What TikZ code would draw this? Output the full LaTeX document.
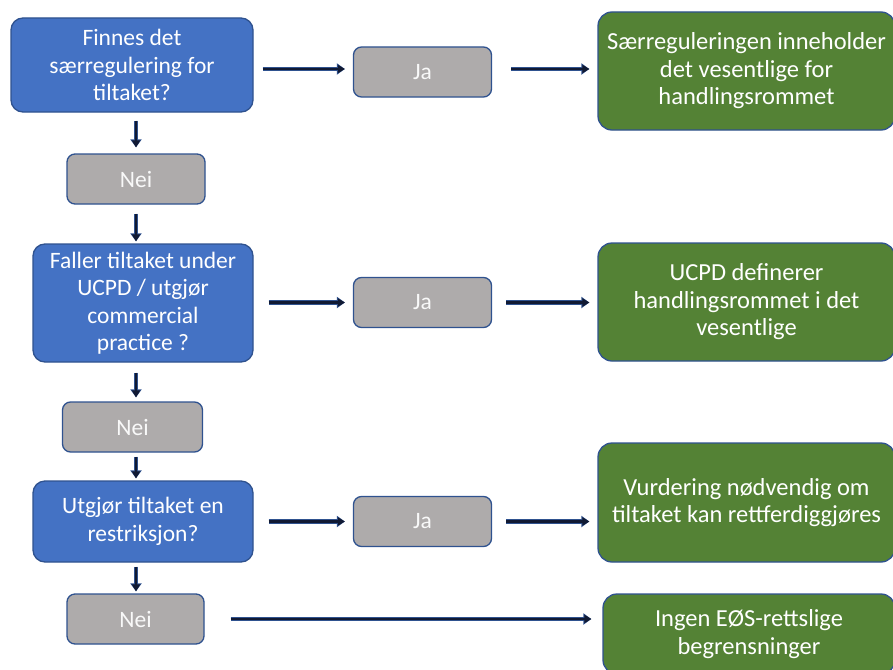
\documentclass[tikz,border=0pt]{standalone}
\usepackage{fontspec}
\setmainfont{Carlito}
\usetikzlibrary{arrows.meta}
\definecolor{qblue}{HTML}{4472C4}
\definecolor{edgeblue}{HTML}{2F528F}
\definecolor{ansgray}{HTML}{AEABAB}
\definecolor{resgreen}{HTML}{548235}
\definecolor{darkline}{HTML}{111A33}
\begin{document}
\begin{tikzpicture}[
    x=1pt, y=-1pt,
    question/.style={rectangle, draw=edgeblue, line width=1.3pt, fill=qblue, rounded corners=12pt, text=white, align=center, font=\fontsize{23.5}{27.5}\selectfont, inner sep=0pt},
    answer/.style={rectangle, draw=edgeblue, line width=1.3pt, fill=ansgray, rounded corners=8pt, text=white!95!gray, align=center, font=\fontsize{23.5}{27.5}\selectfont, minimum width=138pt, minimum height=50pt, inner sep=0pt},
    result/.style={rectangle, draw=edgeblue, line width=1.3pt, fill=resgreen, rounded corners=14pt, text=white, align=center, font=\fontsize{24.5}{27.5}\selectfont, minimum width=297pt, inner sep=0pt},
    arrow/.style={line width=2.5pt, draw=darkline, -{Triangle[length=7pt,width=8pt]},
        preaction={draw=edgeblue, line width=4.2pt, -{Triangle[length=8pt,width=11pt]}}}
]
    \useasboundingbox (0,0) rectangle (893,669);

    % Questions
    \node [question, minimum width=242pt, minimum height=94pt] (q1) at (132,65) {Finnes det\\særregulering for\\tiltaket?};
    \node [question, minimum width=220pt, minimum height=118pt] (q2) at (143,303) {Faller tiltaket under\\UCPD / utgjør\\commercial\\practice ?};
    \node [question, minimum width=220pt, minimum height=81pt] (q3) at (143,521.5) {Utgjør tiltaket en\\restriksjon?};

    % Nei
    \node [answer] (nei1) at (136,179) {Nei};
    \node [answer, minimum width=140pt] (nei2) at (132.5,427) {Nei};
    \node [answer, minimum width=137pt] (nei3) at (135.5,619) {Nei};

    % Ja
    \node [answer] (ja1) at (422.5,72) {Ja};
    \node [answer] (ja2) at (422.5,302.5) {Ja};
    \node [answer] (ja3) at (422.5,521.5) {Ja};

    % Results
    \node [result, minimum height=118pt] (res1) at (746.5,71) {Særreguleringen inneholder\\det vesentlige for\\handlingsrommet};
    \node [result, minimum height=118pt] (res2) at (746.5,302) {UCPD definerer\\handlingsrommet i det\\vesentlige};
    \node [result, minimum height=119pt] (res3) at (746.5,502.5) {Vurdering nødvendig om\\tiltaket kan rettferdiggjøres};
    \node [result, minimum width=292pt, minimum height=80pt] (res4) at (749,634) {Ingen EØS-rettslige\\begrensninger};

    % Arrows down
    \draw [arrow, shorten <=8pt, shorten >=6pt] (q1.south -| nei1.north) -- (nei1.north);
    \draw [arrow, shorten <=9pt, shorten >=2pt] (nei1.south) -- (nei1.south |- q2.north);
    \draw [arrow, shorten <=10pt, shorten >=4pt] (q2.south -| nei1.south) -- (nei2.north -| nei1.south);
    \draw [arrow, shorten <=4pt, shorten >=2pt] (nei2.south -| nei1.south) -- (q3.north -| nei1.south);
    \draw [arrow, shorten <=4pt, shorten >=2pt] (q3.south -| nei1.south) -- (nei3.north -| nei1.south);

    % Arrows right
    \draw [arrow, shorten <=9pt, shorten >=8pt] (q1.east |- 0,69) -- (ja1.west |- 0,69);
    \draw [arrow, shorten <=19pt, shorten >=8pt] (ja1.east |- 0,69) -- (res1.west |- 0,69);
    \draw [arrow, shorten <=15pt, shorten >=8pt] (q2.east |- ja2.west) -- (ja2.west);
    \draw [arrow, shorten <=14pt, shorten >=8pt] (ja2.east) -- (ja2.east -| res2.west);
    \draw [arrow, shorten <=15pt, shorten >=8pt] (q3.east |- ja3.west) -- (ja3.west);
    \draw [arrow, shorten <=14pt, shorten >=8pt] (ja3.east) -- (ja3.east -| res3.west);
    \draw [arrow, shorten <=26pt, shorten >=11pt] (nei3.east) -- (nei3.east -| res4.west);
\end{tikzpicture}
\end{document}
